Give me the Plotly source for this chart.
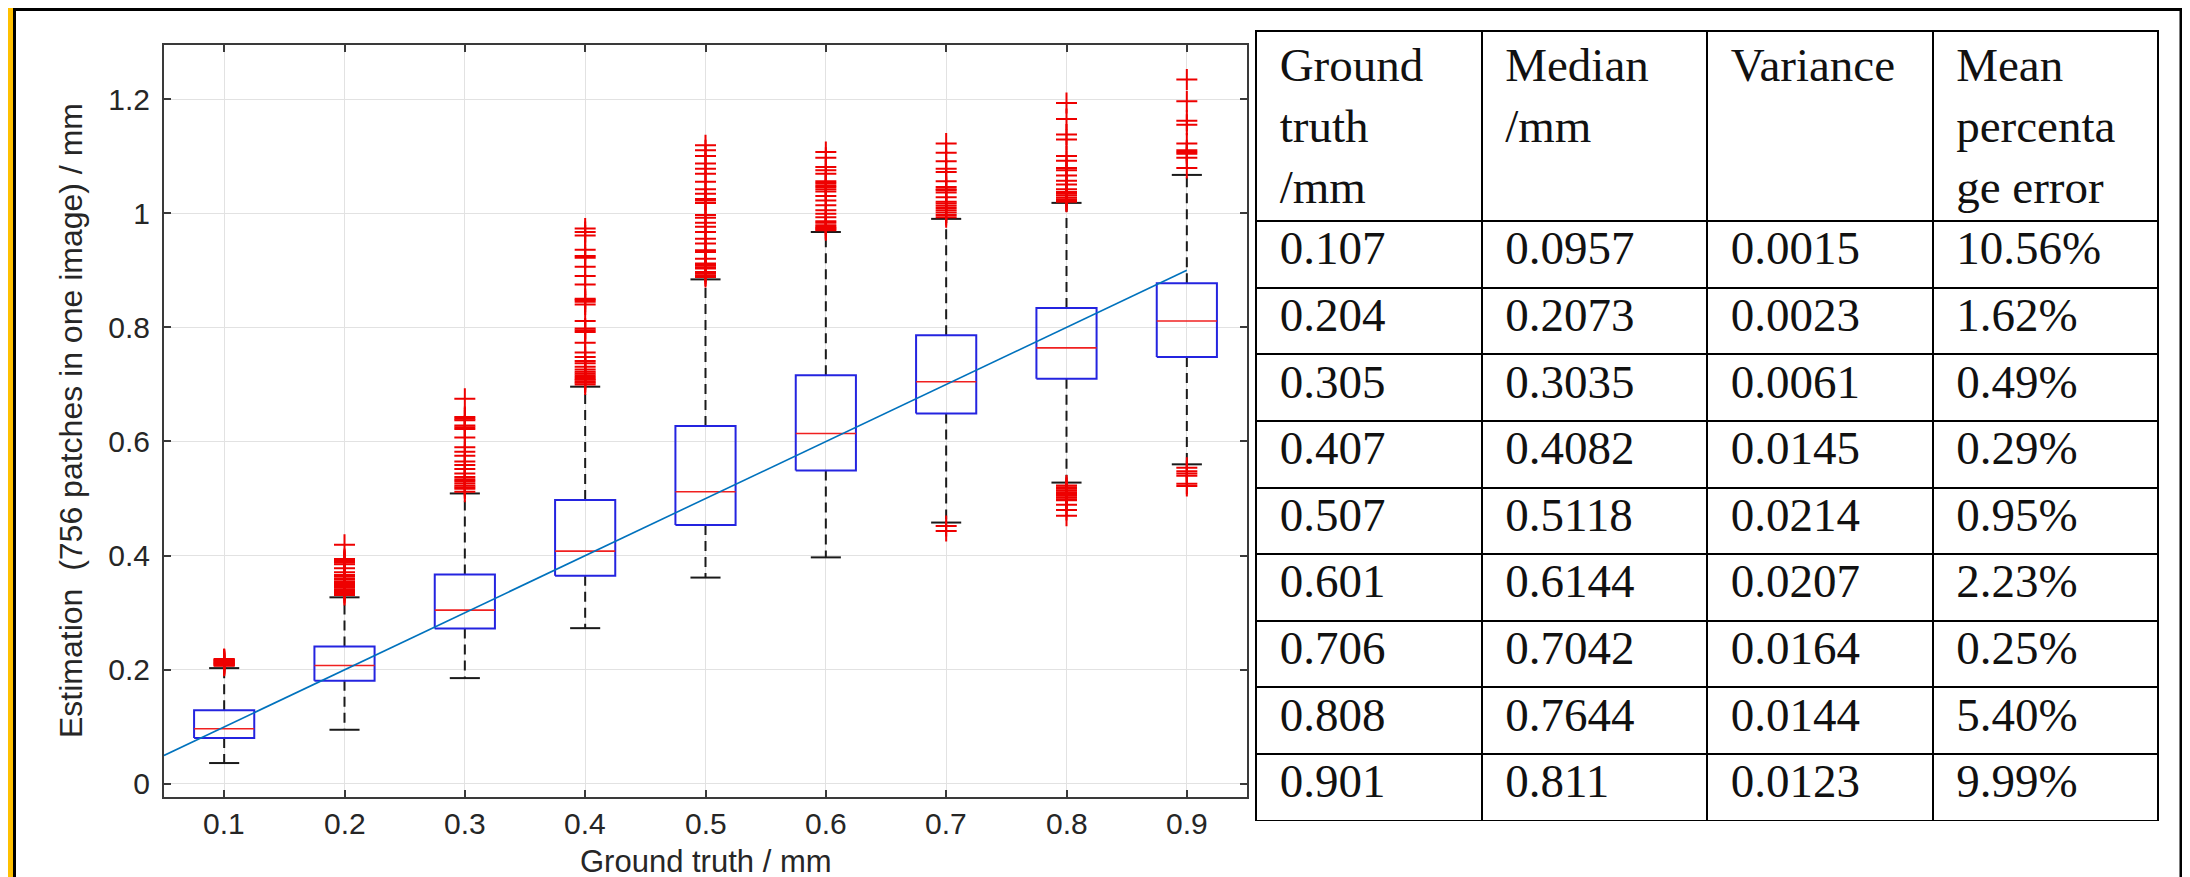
import plotly.graph_objects as go

# ---------------- data: box plot ----------------
positions = [0.1, 0.2, 0.3, 0.4, 0.5, 0.6, 0.7, 0.8, 0.9]
tick_labels = ["0.1", "0.2", "0.3", "0.4", "0.5", "0.6", "0.7", "0.8", "0.9"]
y_ticks = [0, 0.2, 0.4, 0.6, 0.8, 1.0, 1.2]

q1 = [0.0805, 0.181, 0.2724, 0.365, 0.4538, 0.549, 0.649, 0.710, 0.748]
medians = [0.0968, 0.2077, 0.3045, 0.408, 0.512, 0.614, 0.7046, 0.764, 0.811]
q3 = [0.129, 0.241, 0.367, 0.4975, 0.627, 0.716, 0.786, 0.834, 0.877]
whisker_lo = [0.0367, 0.095, 0.1855, 0.273, 0.3616, 0.397, 0.458, 0.528, 0.560]
whisker_hi = [0.203, 0.327, 0.509, 0.696, 0.884, 0.967, 0.990, 1.018, 1.067]

outliers_01 = [0.207, 0.208, 0.209, 0.210, 0.211, 0.212, 0.213, 0.214, 0.215,
               0.216, 0.217, 0.218, 0.219]
outliers_02 = [0.331, 0.333, 0.335, 0.338, 0.341, 0.344, 0.347, 0.350, 0.352,
               0.355, 0.359, 0.363, 0.366, 0.371, 0.378, 0.385, 0.388, 0.390,
               0.392, 0.394, 0.419]
outliers_03 = [0.512, 0.517, 0.520, 0.523, 0.527, 0.531, 0.534, 0.538, 0.544,
               0.552, 0.559, 0.565, 0.575, 0.582, 0.590, 0.607, 0.622, 0.625,
               0.628, 0.637, 0.640, 0.643, 0.675]
outliers_04 = [0.700, 0.703, 0.705, 0.708, 0.710, 0.713, 0.716, 0.719, 0.722,
               0.726, 0.731, 0.737, 0.741, 0.748, 0.756, 0.773, 0.792, 0.795,
               0.798, 0.811, 0.840, 0.845, 0.848, 0.850, 0.875, 0.890, 0.906,
               0.922, 0.925, 0.936, 0.961, 0.967, 0.973]
outliers_05 = [0.888, 0.891, 0.894, 0.897, 0.903, 0.905, 0.908, 0.910, 0.912,
               0.920, 0.932, 0.935, 0.947, 0.955, 0.967, 0.976, 0.983, 0.992,
               0.997, 1.018, 1.022, 1.025, 1.034, 1.042, 1.055, 1.069, 1.078,
               1.087, 1.100, 1.110, 1.119]
outliers_06 = [0.970, 0.972, 0.974, 0.976, 0.979, 0.983, 0.986, 0.993, 0.999,
               1.005, 1.014, 1.022, 1.030, 1.038, 1.042, 1.046, 1.049, 1.053,
               1.056, 1.069, 1.075, 1.081, 1.097, 1.107]
outliers_07 = [0.443, 0.452, 0.993, 0.997, 1.001, 1.005, 1.009, 1.013, 1.017,
               1.020, 1.028, 1.036, 1.040, 1.042, 1.046, 1.056, 1.072, 1.078,
               1.091, 1.106, 1.122]
outliers_08 = [0.470, 0.480, 0.489, 0.497, 0.499, 0.502, 0.505, 0.508, 0.511,
               0.514, 0.517, 0.520, 0.523, 1.020, 1.022, 1.024, 1.027, 1.031,
               1.034, 1.037, 1.042, 1.050, 1.057, 1.066, 1.075, 1.079, 1.092,
               1.100, 1.129, 1.138, 1.165, 1.193]
outliers_09 = [0.522, 0.526, 0.540, 0.544, 0.548, 0.554, 1.079, 1.097, 1.104,
               1.107, 1.110, 1.122, 1.155, 1.162, 1.196, 1.234]
outliers = [outliers_01, outliers_02, outliers_03, outliers_04, outliers_05,
            outliers_06, outliers_07, outliers_08, outliers_09]

fit_x = [0.05, 0.9]
fit_y = [0.05, 0.9]

# ---------------- data: table ----------------
table_headers = ["Ground<br>truth<br>/mm", "Median<br>/mm", "Variance<br>\u00a0",
                 "Mean<br>percenta<br>ge error"]
table_gt = ["0.107", "0.204", "0.305", "0.407", "0.507", "0.601", "0.706", "0.808", "0.901"]
table_median = ["0.0957", "0.2073", "0.3035", "0.4082", "0.5118", "0.6144", "0.7042", "0.7644", "0.811"]
table_variance = ["0.0015", "0.0023", "0.0061", "0.0145", "0.0214", "0.0207", "0.0164", "0.0144", "0.0123"]
table_mpe = ["10.56%", "1.62%", "0.49%", "0.29%", "0.95%", "2.23%", "0.25%", "5.40%", "9.99%"]

# ---------------- geometry / style ----------------
W, H = 2190, 877
PX_L, PX_R, PX_T, PX_B = 156, 1239, 37, 789
BW = 0.025   # half box width (data units)
CW = 0.0125  # half cap width
SANS = "Liberation Sans, Arial, sans-serif"
SERIF = "Liberation Serif, Times New Roman, serif"
AX = "#3a3a3a"
TXT = "#262626"

def px_x(p):
    return p / W

def px_y(p):
    return 1 - p / H

# build line geometries from the stats
box_x, box_y, med_x, med_y = [], [], [], []
wh_x, wh_y, cap_x, cap_y = [], [], [], []
out_x, out_y = [], []
for i, p in enumerate(positions):
    box_x += [p - BW, p + BW, p + BW, p - BW, p - BW, None]
    box_y += [q1[i], q1[i], q3[i], q3[i], q1[i], None]
    med_x += [p - BW, p + BW, None]
    med_y += [medians[i], medians[i], None]
    wh_x += [p, p, None, p, p, None]
    wh_y += [q3[i], whisker_hi[i], None, q1[i], whisker_lo[i], None]
    cap_x += [p - CW, p + CW, None, p - CW, p + CW, None]
    cap_y += [whisker_hi[i], whisker_hi[i], None, whisker_lo[i], whisker_lo[i], None]
    out_x += [p] * len(outliers[i])
    out_y += outliers[i]

fig = go.Figure()
fig.add_trace(go.Scatter(x=wh_x, y=wh_y, mode="lines", hoverinfo="skip",
                         line=dict(color="#1a1a1a", width=2, dash="10px,6px")))
fig.add_trace(go.Scatter(x=cap_x, y=cap_y, mode="lines", hoverinfo="skip",
                         line=dict(color="#1a1a1a", width=2)))
fig.add_trace(go.Scatter(x=box_x, y=box_y, mode="lines", hoverinfo="skip",
                         line=dict(color="#2424e0", width=2)))
fig.add_trace(go.Scatter(x=med_x, y=med_y, mode="lines", hoverinfo="skip",
                         line=dict(color="#f02020", width=1.6)))
fig.add_trace(go.Scatter(x=out_x, y=out_y, mode="markers",
                         marker=dict(symbol="cross-thin", size=15, color="#ee0000",
                                     line=dict(color="#ee0000", width=2))))
fig.add_trace(go.Scatter(x=fit_x, y=fit_y, mode="lines",
                         line=dict(color="#0072BD", width=1.6)))

# table
pad = "\u2004"
def padtxt(s):
    return "<br>".join(pad + part for part in s.split("<br>"))

fig.add_trace(go.Table(
    domain=dict(x=[px_x(1248), px_x(2150)], y=[px_y(813), px_y(23)]),
    columnwidth=[1, 1, 1, 1],
    header=dict(values=[padtxt(h) for h in table_headers], height=188,
                align="left", fill=dict(color="white"),
                line=dict(color="black", width=2),
                font=dict(family=SERIF, size=47, color="#111111")),
    cells=dict(values=[[padtxt(v) for v in col] for col in
                       [table_gt, table_median, table_variance, table_mpe]],
               height=66.6, align="left", fill=dict(color="white"),
               line=dict(color="black", width=2),
               font=dict(family=SERIF, size=47, color="#111111")),
))

# x tick labels placed on the x axis scale
x_tick_annotations = [
    dict(text=lab, xref="x", yref="paper", x=p, y=px_y(815),
         xanchor="center", yanchor="middle", showarrow=False,
         font=dict(family=SANS, size=30, color=TXT))
    for p, lab in zip(positions, tick_labels)
]

fig.update_layout(
    width=W, height=H, autosize=False,
    margin=dict(l=0, r=0, t=0, b=0, pad=0),
    paper_bgcolor="white", plot_bgcolor="white",
    showlegend=False,
    xaxis=dict(domain=[px_x(PX_L), px_x(PX_R)], range=[0.05, 0.95],
               tickvals=positions, ticktext=tick_labels, showticklabels=False,
               showgrid=True, gridcolor="#e2e2e2", gridwidth=1, zeroline=False,
               showline=True, linecolor=AX, linewidth=2, mirror="ticks",
               ticks="inside", ticklen=7, tickwidth=1.5, tickcolor=AX,
               automargin=False),
    yaxis=dict(domain=[px_y(PX_B), px_y(PX_T)], range=[-0.0228, 1.2946],
               tickvals=y_ticks,
               showgrid=True, gridcolor="#e2e2e2", gridwidth=1, zeroline=False,
               showline=True, linecolor=AX, linewidth=2, mirror="ticks",
               ticks="inside", ticklen=7, tickwidth=1.5, tickcolor=AX,
               tickfont=dict(family=SANS, size=30, color=TXT),
               ticklabelstandoff=6, automargin=False),
    annotations=x_tick_annotations + [
        dict(text="Ground truth / mm", xref="paper", yref="paper",
             x=px_x((PX_L + PX_R) / 2), y=px_y(873), xanchor="center", yanchor="bottom",
             showarrow=False, font=dict(family=SANS, size=31, color=TXT)),
        dict(text="Estimation\u00a0 (756 patches in one image) / mm", xref="paper", yref="paper",
             x=px_x(63), y=px_y((PX_T + PX_B) / 2), xanchor="center", yanchor="middle",
             textangle=-90, showarrow=False, font=dict(family=SANS, size=32, color=TXT)),
    ],
    shapes=[
        dict(type="rect", xref="paper", yref="paper", x0=0, x1=px_x(5), y0=0, y1=1,
             fillcolor="#FFC000", line=dict(width=0), layer="above"),
        dict(type="rect", xref="paper", yref="paper", x0=px_x(2175), x1=1, y0=0, y1=1,
             fillcolor="#FFC000", line=dict(width=0), layer="above"),
        dict(type="line", xref="paper", yref="paper", x0=px_x(6.5), x1=px_x(6.5), y0=0, y1=1,
             line=dict(color="black", width=3), layer="above"),
        dict(type="line", xref="paper", yref="paper", x0=px_x(2173), x1=px_x(2173), y0=0, y1=1,
             line=dict(color="black", width=3), layer="above"),
        dict(type="line", xref="paper", yref="paper", x0=px_x(5), x1=px_x(2175), y0=px_y(1.5), y1=px_y(1.5),
             line=dict(color="black", width=3), layer="above"),
    ],
)

fig.write_html("out.html")
